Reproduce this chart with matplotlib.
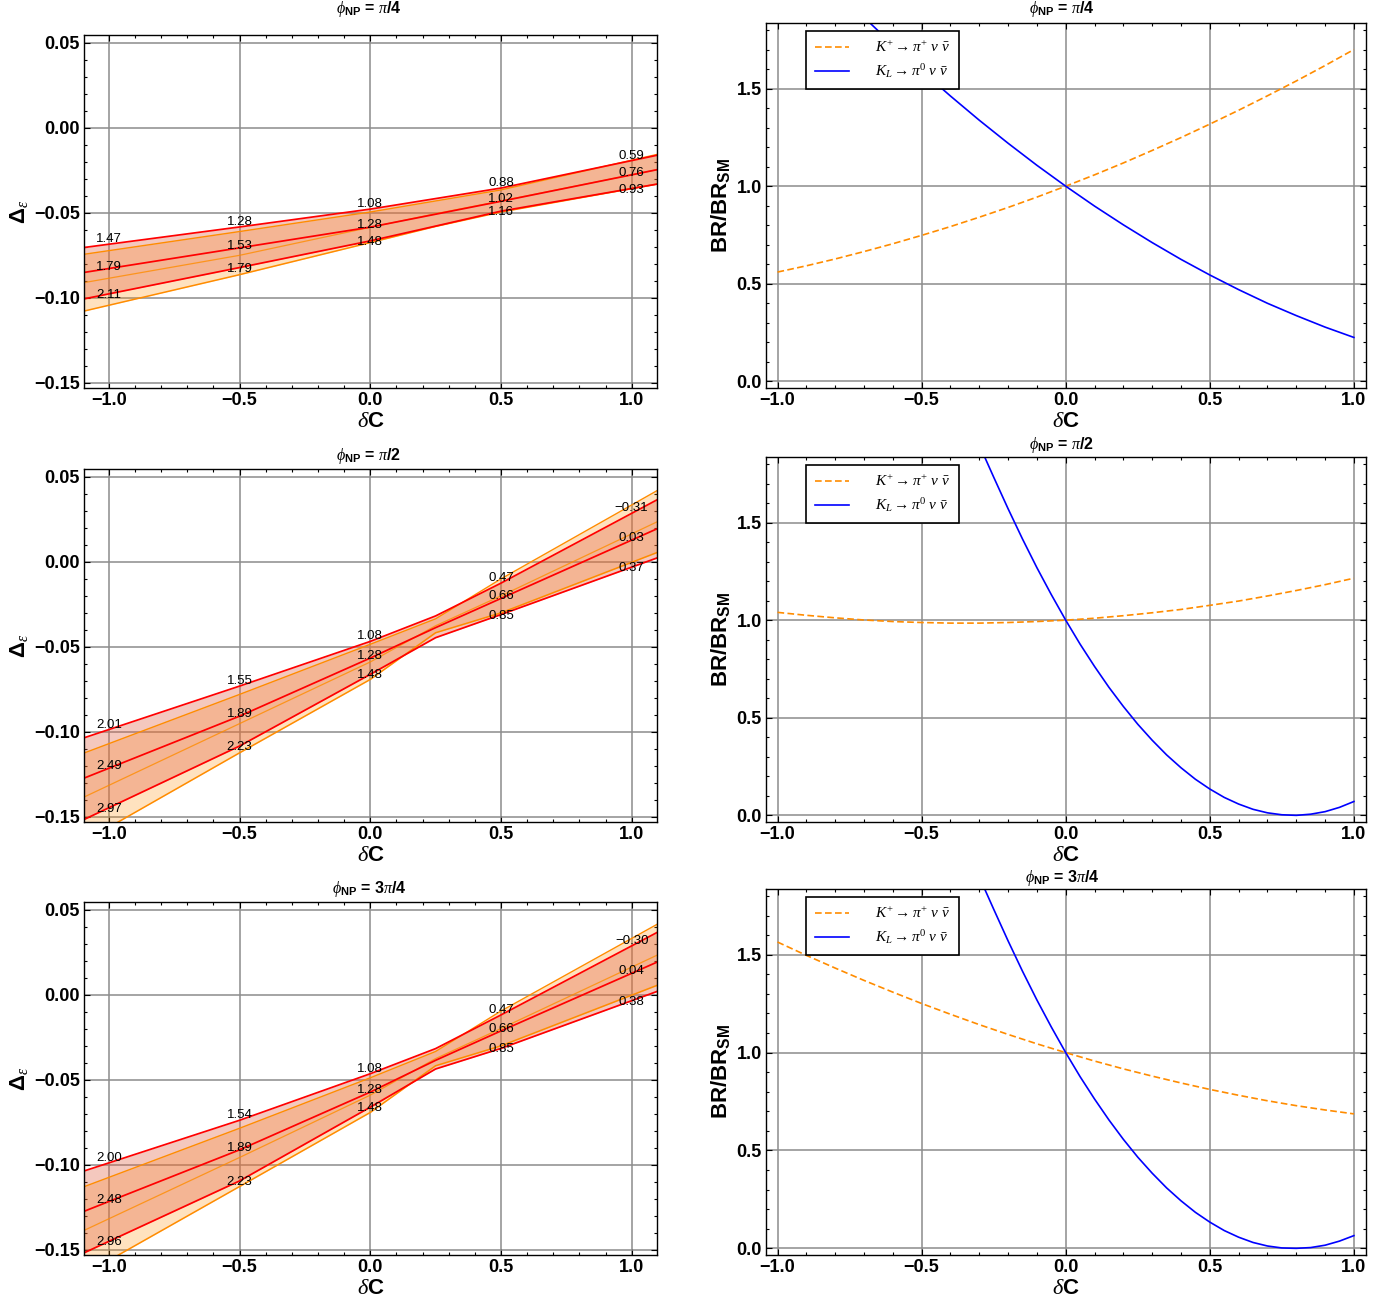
import numpy as np
import matplotlib
matplotlib.use("Agg")
import matplotlib.pyplot as plt
from matplotlib.ticker import MultipleLocator, FuncFormatter

plt.rcParams["font.family"] = ["Liberation Sans", "DejaVu Sans"]
plt.rcParams["mathtext.fontset"] = "custom"
plt.rcParams["mathtext.rm"] = "Liberation Serif"
plt.rcParams["mathtext.it"] = "Liberation Serif:italic"
plt.rcParams["mathtext.bf"] = "Liberation Sans:bold"
plt.rcParams["mathtext.sf"] = "Liberation Sans:bold"

W, H = 1375, 1301

# ---- left column: Delta_epsilon bands (values at the dC nodes) ----
DC_NODES = [-1.1, -0.5, 0.0, 0.25, 0.5, 1.1]

# phi_NP = pi/4
red_hi_1 = [-0.0705, -0.0583, -0.0478, -0.0416, -0.0354, -0.0160]
red_mid_1 = [-0.0852, -0.0706, -0.0584, -0.0508, -0.0432, -0.0245]
red_lo_1 = [-0.1008, -0.0822, -0.0665, -0.0578, -0.0490, -0.0330]
orange_hi_1 = [-0.0745, -0.0610, -0.0495, -0.0430, -0.0365, -0.0155]
orange_mid_1 = [-0.0912, -0.0750, -0.0585, -0.0505, -0.0430, -0.0245]
orange_lo_1 = [-0.1080, -0.0864, -0.0675, -0.0580, -0.0495, -0.0330]

# phi_NP = pi/2
red_hi_2 = [-0.1038, -0.0731, -0.0468, -0.0318, -0.0125, 0.0368]
red_mid_2 = [-0.1276, -0.0908, -0.0566, -0.0387, -0.0215, 0.0197]
red_lo_2 = [-0.1520, -0.1084, -0.0662, -0.0446, -0.0310, 0.0025]
orange_hi_2 = [-0.1128, -0.0780, -0.0485, -0.0335, -0.0100, 0.0422]
orange_mid_2 = [-0.1388, -0.0952, -0.0589, -0.0376, -0.0200, 0.0238]
orange_lo_2 = [-0.1650, -0.1124, -0.0692, -0.0417, -0.0300, 0.0057]

# phi_NP = 3pi/4
red_hi_3 = [-0.1039, -0.0738, -0.0464, -0.0316, -0.0118, 0.0370]
red_mid_3 = [-0.1277, -0.0912, -0.0572, -0.0385, -0.0212, 0.0195]
red_lo_3 = [-0.1522, -0.1095, -0.0661, -0.0436, -0.0315, 0.0022]
orange_hi_3 = [-0.1132, -0.0785, -0.0488, -0.0333, -0.0095, 0.0418]
orange_mid_3 = [-0.1390, -0.0957, -0.0590, -0.0375, -0.0198, 0.0236]
orange_lo_3 = [-0.1650, -0.1128, -0.0692, -0.0417, -0.0300, 0.0058]

LABEL_DC = [-1.0, -0.5, 0.0, 0.5, 1.0]
# labels on (upper, middle, lower) red lines at each LABEL_DC
labels_1 = [["1.47", "1.79", "2.11"], ["1.28", "1.53", "1.79"], ["1.08", "1.28", "1.48"],
            ["0.88", "1.02", "1.16"], ["0.59", "0.76", "0.93"]]
labels_2 = [["2.01", "2.49", "2.97"], ["1.55", "1.89", "2.23"], ["1.08", "1.28", "1.48"],
            ["0.47", "0.66", "0.85"], ["\u22120.31", "0.03", "0.37"]]
labels_3 = [["2.00", "2.48", "2.96"], ["1.54", "1.89", "2.23"], ["1.08", "1.28", "1.48"],
            ["0.47", "0.66", "0.85"], ["\u22120.30", "0.04", "0.38"]]

# ---- right column: BR / BR_SM ----
BR_DC = [-1.0, -0.9, -0.8, -0.7, -0.6, -0.5, -0.4, -0.3, -0.2, -0.1, 0.0,
         0.1, 0.2, 0.3, 0.4, 0.5, 0.6, 0.7, 0.8, 0.9, 1.0]
KL_DC = [-0.35, -0.3, -0.25, -0.2, -0.15, -0.1, -0.05, 0.0, 0.05, 0.1, 0.15, 0.2,
         0.25, 0.3, 0.35, 0.4, 0.45, 0.5, 0.55, 0.6, 0.65, 0.7, 0.75, 0.8, 0.85,
         0.9, 0.95, 1.0]
kplus_1 = [0.560, 0.592, 0.627, 0.665, 0.705, 0.748, 0.793, 0.841, 0.891, 0.944, 1.0,
           1.058, 1.119, 1.183, 1.249, 1.318, 1.389, 1.463, 1.539, 1.618, 1.700]
klong_1 = [2.317, 2.161, 2.010, 1.865, 1.725, 1.591, 1.462, 1.338, 1.220, 1.107, 1.0,
           0.898, 0.802, 0.711, 0.625, 0.545, 0.470, 0.400, 0.337, 0.278, 0.225]
kplus_2 = [1.040, 1.025, 1.012, 1.001, 0.993, 0.988, 0.985, 0.985, 0.988, 0.993, 1.0,
           1.010, 1.023, 1.038, 1.055, 1.076, 1.098, 1.124, 1.152, 1.182, 1.215]
klong_2 = [2.083, 1.898, 1.733, 1.571, 1.416, 1.269, 1.131, 1.0, 0.877, 0.763, 0.656,
           0.558, 0.467, 0.385, 0.310, 0.244, 0.185, 0.135, 0.092, 0.058, 0.031, 0.013,
           0.003, 0.000, 0.006, 0.019, 0.041, 0.071]
kplus_3 = [1.565, 1.497, 1.432, 1.369, 1.309, 1.251, 1.196, 1.143, 1.093, 1.045, 1.0,
           0.957, 0.917, 0.880, 0.845, 0.812, 0.782, 0.754, 0.729, 0.707, 0.687]
klong_3 = [2.083, 1.898, 1.733, 1.571, 1.416, 1.269, 1.131, 1.0, 0.877, 0.763, 0.656,
           0.557, 0.466, 0.384, 0.309, 0.243, 0.184, 0.134, 0.091, 0.057, 0.030, 0.012,
           0.002, 0.000, 0.004, 0.016, 0.037, 0.065]

TITLES = [r"$\phi_{\mathbf{NP}}$ = $\pi$/4", r"$\phi_{\mathbf{NP}}$ = $\pi$/2",
          r"$\phi_{\mathbf{NP}}$ = 3$\pi$/4"]


def px_axes(fig, x0, y0, x1, y1):
    return fig.add_axes([x0 / W, 1 - y1 / H, (x1 - x0) / W, (y1 - y0) / H])


def fmt(decimals):
    return FuncFormatter(lambda v, p: f"{v:.{decimals}f}".replace("-", "\u2212"))


def frame(ax, xmaj, ymaj, xmin, ymin, ydec):
    ax.set_axisbelow(True)
    ax.xaxis.set_major_locator(MultipleLocator(xmaj))
    ax.xaxis.set_minor_locator(MultipleLocator(xmin))
    ax.yaxis.set_major_locator(MultipleLocator(ymaj))
    ax.yaxis.set_minor_locator(MultipleLocator(ymin))
    ax.xaxis.set_major_formatter(fmt(1))
    ax.yaxis.set_major_formatter(fmt(ydec))
    ax.tick_params(which="both", direction="in", top=True, right=True, width=0.8)
    ax.tick_params(which="major", length=4, labelsize=13, pad=3)
    ax.tick_params(which="minor", length=2)
    for lab in ax.get_xticklabels() + ax.get_yticklabels():
        lab.set_fontweight("bold")
    ax.grid(True, which="major", color="#8c8c8c", lw=1.1)
    for s in ax.spines.values():
        s.set_linewidth(1.0)
    ax.set_xlabel(r"$\delta$C", fontsize=16, fontweight="bold", labelpad=1)


fig = plt.figure(figsize=(W / 100, H / 100), dpi=100)

left_boxes = [(84, 35, 657, 388), (84, 469, 657, 822), (84, 902, 657, 1255)]
right_boxes = [(766, 23, 1366, 388), (766, 457, 1366, 822), (766, 889, 1366, 1255)]
left_title_y = [9, 456, 889]
right_title_y = [9, 445, 878]
label_shift = [5, 2, -1]  # pixel nudge for upper / middle / lower labels

bands = [
    (red_hi_1, red_mid_1, red_lo_1, orange_hi_1, orange_mid_1, orange_lo_1, labels_1),
    (red_hi_2, red_mid_2, red_lo_2, orange_hi_2, orange_mid_2, orange_lo_2, labels_2),
    (red_hi_3, red_mid_3, red_lo_3, orange_hi_3, orange_mid_3, orange_lo_3, labels_3),
]
ratios = [(BR_DC, kplus_1, BR_DC, klong_1), (BR_DC, kplus_2, KL_DC, klong_2),
          (BR_DC, kplus_3, KL_DC, klong_3)]

for i in range(3):
    rh, rm, rl, oh, om, ol, labs = bands[i]
    ax = px_axes(fig, *left_boxes[i])
    ax.fill_between(DC_NODES, ol, oh, color="#ff8c00", alpha=0.25, lw=0)
    ax.plot(DC_NODES, oh, color="#ff8c00", lw=1.0)
    ax.plot(DC_NODES, om, color="#ff8c00", lw=0.9, alpha=0.8)
    ax.plot(DC_NODES, ol, color="#ff8c00", lw=1.1)
    ax.fill_between(DC_NODES, rl, rh, color=(226 / 255, 98 / 255, 69 / 255), alpha=0.35, lw=0)
    for arr in (rh, rm, rl):
        ax.plot(DC_NODES, arr, color="#ff0000", lw=1.25)
    for j, xv in enumerate(LABEL_DC):
        for k, arr in enumerate((rh, rm, rl)):
            yv = np.interp(xv, DC_NODES, arr)
            ax.annotate(labs[j][k], (xv, yv), xytext=(0, label_shift[k]),
                        textcoords="offset pixels", ha="center", va="center", fontsize=9.5)
    ax.set_xlim(-1.095, 1.097)
    ax.set_ylim(-0.1531, 0.0547)
    frame(ax, 0.5, 0.05, 0.1, 0.01, 2)
    ax.set_ylabel("\u0394$_{\\epsilon}$", fontsize=16, fontweight="bold", labelpad=3)
    fig.text(369 / W, 1 - left_title_y[i] / H, TITLES[i], ha="center", va="center",
             fontsize=11.5, fontweight="bold")

    xp, kp, xl, kl = ratios[i]
    ax = px_axes(fig, *right_boxes[i])
    ax.plot(xp, kp, color="#ff8c00", lw=1.2, ls=(0, (4, 2)),
            label=r"$K^{+} \rightarrow \pi^{+}\ \nu\ \bar{\nu}$")
    ax.plot(xl, kl, color="#0000ff", lw=1.2,
            label=r"$K_{L} \rightarrow \pi^{0}\ \nu\ \bar{\nu}$")
    ax.set_xlim(-1.04, 1.042)
    ax.set_ylim(-0.034, 1.836)
    frame(ax, 0.5, 0.5, 0.1, 0.1, 1)
    ax.set_ylabel(r"BR/BR$_{\mathsf{SM}}$", fontsize=16, fontweight="bold", labelpad=3)
    leg = ax.legend(loc="upper left", bbox_to_anchor=(0.067, 0.978), fontsize=11,
                    frameon=True, fancybox=False, edgecolor="black", framealpha=1,
                    handlelength=2.2, borderpad=0.6, labelspacing=0.45, handletextpad=1.7,
                    borderaxespad=0)
    leg.get_frame().set_linewidth(1.2)
    fig.text(1062 / W, 1 - right_title_y[i] / H, TITLES[i], ha="center", va="center",
             fontsize=11.5, fontweight="bold")

fig.savefig("out.png", dpi=100)
